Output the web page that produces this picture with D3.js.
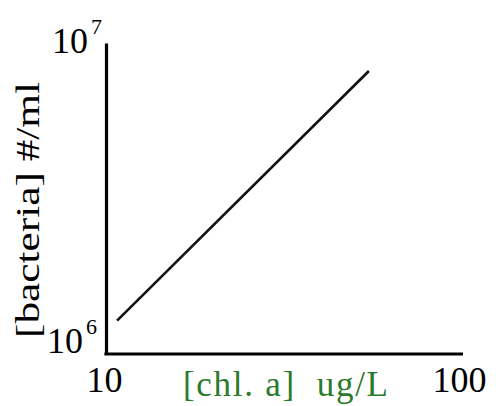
<!DOCTYPE html>
<html>
<head>
<meta charset="utf-8">
<script src="https://cdn.jsdelivr.net/npm/d3@7"></script>
<style>
  html, body { margin: 0; padding: 0; background: #fff; }
  svg { display: block; }
</style>
</head>
<body>
<svg id="chart" width="496" height="406"></svg>
<script>
// Data
const chlValues = [10.74, 54.5];          // [chl. a] ug/L
const bacteriaValues = [1.28e6, 8.13e6];  // [bacteria] #/ml
const xTicks = [10, 100];
const xTickLabels = ["10", "100"];
const yTicks = [1e6, 1e7];
const yTickBase = ["10", "10"];
const yTickExp = ["6", "7"];
const xLabel = "[chl. a]  ug/L";
const yLabel = "[bacteria] #/ml";

const FONT = "'Liberation Serif', 'Times New Roman', Tinos, 'Nimbus Roman', Times, serif";

const svg = d3.select("#chart");
const x = d3.scaleLog().domain([10, 100]).range([106, 463]);
const y = d3.scaleLog().domain([1e6, 1e7]).range([354, 43]);

// Axes (domain lines only)
const xAxis = d3.axisBottom(x).tickValues([]).tickSizeOuter(0);
const yAxis = d3.axisLeft(y).tickValues([]).tickSizeOuter(0);
const gx = svg.append("g").attr("transform", `translate(0,${y(1e6)})`).call(xAxis);
const gy = svg.append("g").attr("transform", `translate(${x(10)},0)`).call(yAxis);
gx.select(".domain").attr("stroke", "#000").attr("stroke-width", 3.2)
  .attr("d", `M${x(10) - 1.6},0H${x(100)}`);
gy.select(".domain").attr("stroke", "#000").attr("stroke-width", 3.2);

// X tick labels
svg.selectAll(".xt").data(xTicks).enter().append("text")
  .attr("class", "xt")
  .attr("x", (d, i) => i === 0 ? x(d) - 1.5 : x(d) - 3.5)
  .attr("y", 392)
  .attr("text-anchor", "middle")
  .attr("font-family", FONT)
  .attr("font-size", 36)
  .attr("fill", "#000")
  .text((d, i) => xTickLabels[i]);

// Y tick labels with superscripts
const yOffsets = [-1, 10];
yTicks.forEach((d, i) => {
  const t = svg.append("text")
    .attr("y", y(d) + yOffsets[i])
    .attr("x", i === 0 ? 47 : 52)
    .attr("font-family", FONT)
    .attr("font-size", 36)
    .attr("fill", "#000");
  t.append("tspan").text(yTickBase[i]);
  t.append("tspan").attr("dx", 3).attr("dy", -19).attr("font-size", 22).text(yTickExp[i]);
});

// Data line
const line = d3.line().x(d => x(d[0])).y(d => y(d[1]));
svg.append("path")
  .datum(chlValues.map((c, i) => [c, bacteriaValues[i]]))
  .attr("d", line)
  .attr("fill", "none")
  .attr("stroke", "#111")
  .attr("stroke-width", 2.6);

// Axis titles
svg.append("text")
  .attr("x", 183).attr("y", 396)
  .attr("font-family", FONT)
  .attr("font-size", 35)
  .attr("fill", "#2b7a2b")
  .attr("textLength", 205)
  .attr("lengthAdjust", "spacing")
  .style("white-space", "pre")
  .text(xLabel);

svg.append("text")
  .attr("transform", "translate(39,338) rotate(-90)")
  .attr("x", 0).attr("y", 0)
  .attr("font-family", FONT)
  .attr("font-size", 34)
  .attr("fill", "#000")
  .attr("textLength", 256)
  .attr("lengthAdjust", "spacingAndGlyphs")
  .text(yLabel);
</script>
</body>
</html>
